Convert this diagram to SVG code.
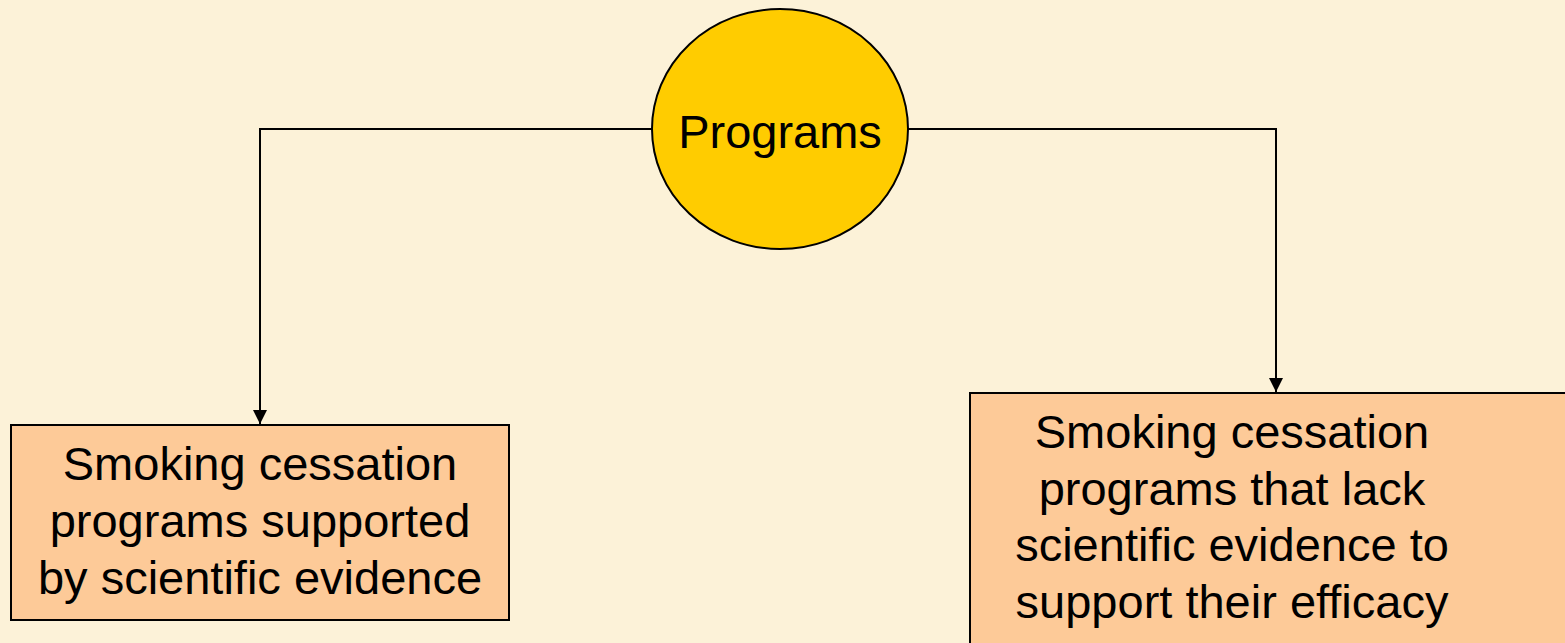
<svg xmlns="http://www.w3.org/2000/svg" width="1565" height="643" viewBox="0 0 1565 643">
  <defs>
    <marker id="arrow" viewBox="0 0 14 14" refX="14" refY="7" markerWidth="14" markerHeight="14" markerUnits="userSpaceOnUse" orient="auto">
      <path d="M0,0 L14,7 L0,14 Z" fill="#000"/>
    </marker>
  </defs>
  <style>
    .box { fill: #FDCA98; stroke: #000; stroke-width: 2; }
    .hub { fill: #FFCC00; stroke: #000; stroke-width: 2; }
    .label { font-family: "Liberation Sans", Arial, sans-serif; font-size: 47px; fill: #000; text-anchor: middle; }
    .wire { fill: none; stroke: #000; stroke-width: 2; }
  </style>

  <rect x="0" y="0" width="1565" height="643" fill="#FCF2D8"/>

  <g id="connectors">
    <path class="wire" d="M652,129 H260 V424" marker-end="url(#arrow)"/>
    <path class="wire" d="M908,129 H1276 V392" marker-end="url(#arrow)"/>
  </g>

  <g id="programs">
    <ellipse class="hub" cx="780" cy="129" rx="128" ry="120"/>
    <text class="label" x="780" y="148">Programs</text>
  </g>

  <g id="supported">
    <rect class="box" x="11" y="425" width="498" height="195"/>
    <text class="label" x="260" y="480">Smoking cessation</text>
    <text class="label" x="260" y="537">programs supported</text>
    <text class="label" x="260" y="594">by scientific evidence</text>
  </g>

  <g id="unsupported">
    <rect class="box" x="970" y="393" width="600" height="260"/>
    <text class="label" x="1232" y="448">Smoking cessation</text>
    <text class="label" x="1232" y="505">programs that lack</text>
    <text class="label" x="1232" y="561">scientific evidence to</text>
    <text class="label" x="1232" y="618">support their efficacy</text>
  </g>
</svg>
